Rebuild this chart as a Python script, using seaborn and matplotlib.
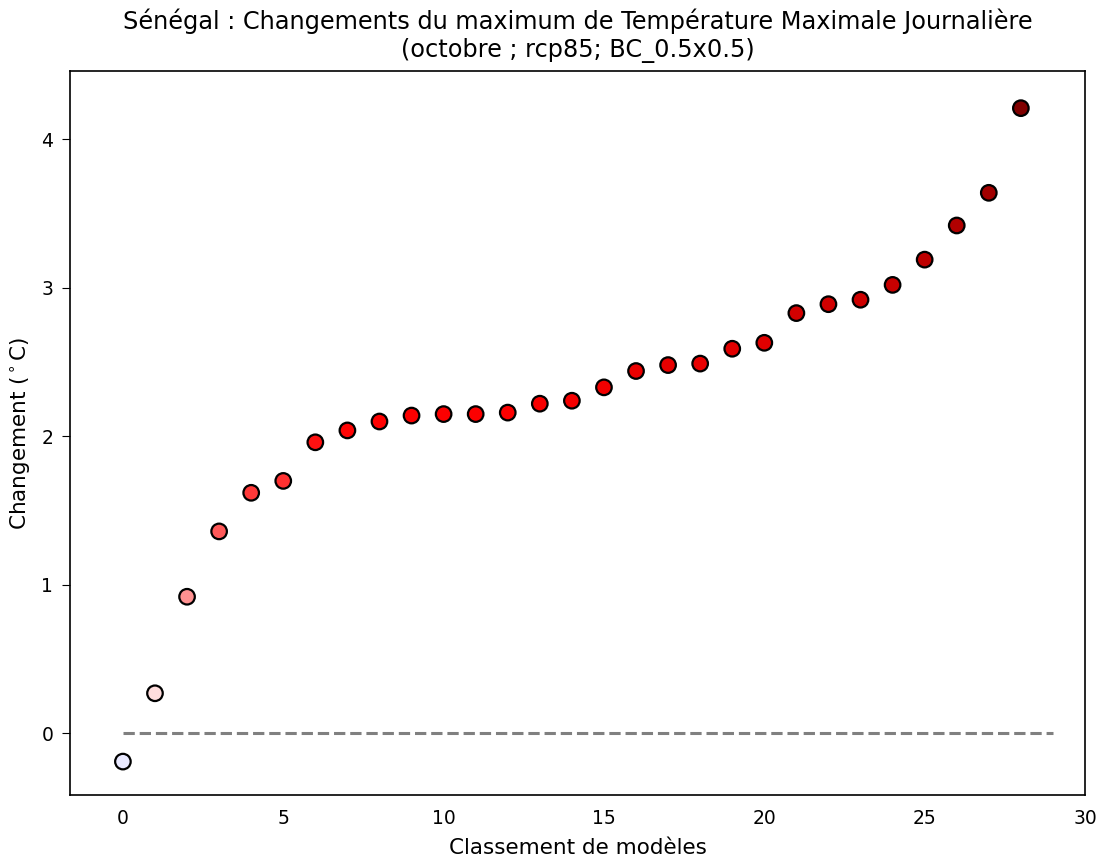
import numpy as np
import pandas as pd
import seaborn as sns
import matplotlib
matplotlib.use("Agg")
import matplotlib.pyplot as plt

TITLE = "Sénégal : Changements du maximum de Température Maximale Journalière\n(octobre ; rcp85; BC_0.5x0.5)"

# changement trié par modèle (°C)
changes = [-0.19, 0.27, 0.92, 1.36, 1.62, 1.70, 1.96, 2.04, 2.10, 2.14,
           2.15, 2.15, 2.16, 2.22, 2.24, 2.33, 2.44, 2.48, 2.49, 2.59,
           2.63, 2.83, 2.89, 2.92, 3.02, 3.19, 3.42, 3.64, 4.21]
ranks = list(range(len(changes)))


def main():
    df = pd.DataFrame({"rank": ranks, "change": changes})
    vmax = np.max(np.abs(changes))

    fig = plt.figure(figsize=(11.04, 8.59), dpi=100)
    ax = fig.add_axes([0.0634, 0.0745, 0.9194, 0.8428])

    ax.hlines(0, 0, len(changes), colors="gray", linestyles="--", linewidth=2.2, zorder=1)
    sns.scatterplot(data=df, x="rank", y="change", hue="change", palette="seismic",
                    hue_norm=(-vmax, vmax), s=125, edgecolor="black", linewidth=1.6,
                    legend=False, ax=ax, zorder=3)

    ax.set_xlim(-1.65, 30)
    ax.set_ylim(-0.415, 4.46)
    ax.set_xticks([0, 5, 10, 15, 20, 25, 30])
    ax.set_yticks([0, 1, 2, 3, 4])
    ax.tick_params(axis="x", length=0, pad=10, labelsize=13.5)
    ax.tick_params(axis="y", length=6, pad=6, labelsize=13.5)
    ax.set_xlabel("Classement de modèles", fontsize=15.5, labelpad=7)
    ax.set_ylabel("Changement ($^\\circ$C)", fontsize=15.5, labelpad=6)
    ax.set_title(TITLE, fontsize=17.3, pad=10)
    for sp in ax.spines.values():
        sp.set_linewidth(1.2)

    fig.savefig("out.png", dpi=100)


if __name__ == '__main__':
    main()
